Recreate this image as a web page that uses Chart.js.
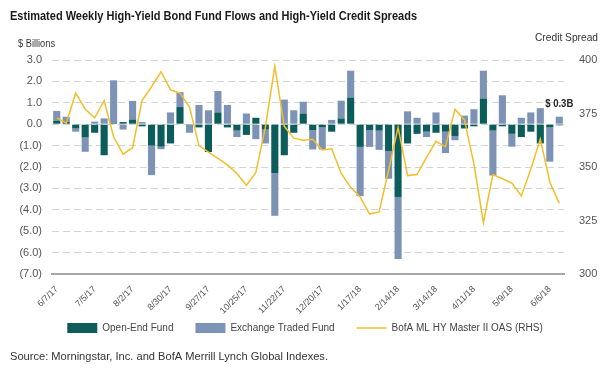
<!DOCTYPE html>
<html>
<head>
<meta charset="utf-8">
<script src="https://cdn.jsdelivr.net/npm/chart.js@4.4.1/dist/chart.umd.min.js"></script>
<style>
  html, body { margin: 0; padding: 0; background: #fff; }
  #wrap { width: 600px; height: 369px; position: relative; }
</style>
</head>
<body>
<div id="wrap"><canvas id="flowChart"></canvas></div>
<script>
// weekly data, 6/7/17 - 6/13/18
const weeks = [
  '6/7/17', '6/14/17', '6/21/17', '6/28/17', '7/5/17', '7/12/17', '7/19/17', '7/26/17',
  '8/2/17', '8/9/17', '8/16/17', '8/23/17', '8/30/17', '9/6/17', '9/13/17', '9/20/17',
  '9/27/17', '10/4/17', '10/11/17', '10/18/17', '10/25/17', '11/1/17', '11/8/17', '11/15/17',
  '11/22/17', '11/29/17', '12/6/17', '12/13/17', '12/20/17', '12/27/17', '1/3/18', '1/10/18',
  '1/17/18', '1/24/18', '1/31/18', '2/7/18', '2/14/18', '2/21/18', '2/28/18', '3/7/18',
  '3/14/18', '3/21/18', '3/28/18', '4/4/18', '4/11/18', '4/18/18', '4/25/18', '5/2/18',
  '5/9/18', '5/16/18', '5/23/18', '5/30/18', '6/6/18', '6/13/18'
];

// $ billions
const openEndFund = [
  0.15, 0.1, -0.2, -0.62, -0.4, -1.45, 0.05, 0.1, 0.22, -0.1, -1.0, -1.05, -0.9, 0.8,
  -0.05, -0.15, -1.3, 0.55, -0.15, -0.3, -0.5, 0.3, -0.25, -2.28, -1.45, -0.4, 0.5,
  -0.28, -0.15, -0.35, 0.27, 1.25, -1.06, -0.28, -0.3, -1.25, -3.4, -0.9, -0.45,
  -0.35, -0.4, -0.35, -0.55, -0.2, -0.1, 1.2, -0.3, -0.1, -0.45, -0.6, -0.35, -0.9,
  -0.15, -0.05
];
const exchangeTradedFund = [
  0.47, 0.25, -0.15, -0.67, 0.12, 0.27, 2.0, -0.25, 0.87, 0.1, -1.38, -0.12, 0.55, 0.7,
  -0.35, 0.9, 0.65, 1.0, 0.9, -0.3, 0.5, -0.7, -0.65, -2.0, 1.15, 0.65, 0.55,
  -0.9, -1.03, 0.2, 0.83, 1.25, -2.3, -0.78, -0.9, -1.3, -2.9, 0.6, 0.3,
  -0.25, 0.55, -1.0, -0.2, 0.4, 0.7, 1.3, -2.1, 1.35, -0.6, 0.3, 0.55, 0.75,
  -1.6, 0.35
];
// BofA ML HY Master II OAS, right axis
const creditSpread = [
  373, 370.5, 384.5, 377, 373, 381, 364, 356, 359, 381, 387.5, 394.5, 386, 384.5,
  378, 360, 357, 354, 351, 347, 341.5, 347.5, 368.5, 397, 369, 363.5, 362.5,
  363, 358, 358.5, 347, 340.5, 336, 328, 329, 348.5, 368.5, 346, 346.5,
  354.5, 362, 359.5, 377, 372, 351.5, 324, 346.5, 344.5, 342.5, 336.5, 349, 363,
  343, 333
];

const leftTicks = [3, 2, 1, 0, -1, -2, -3, -4, -5, -6, -7];
const rightTicks = [400, 375, 350, 325, 300];
const lastLabel = '$ 0.3B';
const titleText = 'Estimated Weekly High-Yield Bond Fund Flows and High-Yield Credit Spreads';

const FONT = "'Liberation Sans Narrow', 'Liberation Sans', Arial, sans-serif";
const TEAL = '#0b5c5a';
const SLATE = '#7d93b6';
const GOLD = '#f2be2a';

function fmtFlow(v) {
  if (v < 0) return '(' + Math.abs(v).toFixed(1) + ')';
  return v.toFixed(1);
}

// draw narrow text: squeeze horizontally to a target width
function narrowText(ctx, text, x, y, width) {
  const w = ctx.measureText(text).width;
  ctx.save();
  ctx.translate(x, y);
  ctx.scale(width / w, 1);
  ctx.fillText(text, 0, 0);
  ctx.restore();
}

const extraText = {
  id: 'extraText',
  afterDraw(chart) {
    const ctx = chart.ctx;
    ctx.save();
    ctx.textBaseline = 'middle';
    ctx.textAlign = 'left';

    ctx.fillStyle = '#1a1a1a';
    ctx.font = 'bold 13.5px ' + FONT;
    narrowText(ctx, titleText, 10, 16, 407);

    ctx.fillStyle = '#333';
    ctx.font = '11px ' + FONT;
    narrowText(ctx, '$ Billions', 18, 44, 37);
    narrowText(ctx, 'Credit Spread', 535, 38, 63);
    ctx.font = '10.5px ' + FONT;
    narrowText(ctx, 'Source: Morningstar, Inc. and BofA Merrill Lynch Global Indexes.', 10, 357, 318);

    // callout above the latest week
    const meta = chart.getDatasetMeta(2);
    const bar = meta.data[meta.data.length - 1];
    ctx.font = 'bold 11px ' + FONT;
    ctx.fillStyle = '#222';
    narrowText(ctx, lastLabel, bar.x - 14, bar.y - 13, 28);
    ctx.restore();
  }
};

const ctx = document.getElementById('flowChart').getContext('2d');
new Chart(ctx, {
  data: {
    labels: weeks,
    datasets: [
      {
        type: 'line',
        label: 'BofA ML HY Master II OAS (RHS)',
        data: creditSpread,
        yAxisID: 'y1',
        borderColor: GOLD,
        backgroundColor: GOLD,
        borderWidth: 1.5,
        pointRadius: 0,
        tension: 0,
        order: 0
      },
      {
        type: 'bar',
        label: 'Open-End Fund',
        data: openEndFund,
        yAxisID: 'y',
        backgroundColor: TEAL,
        barPercentage: 0.75,
        categoryPercentage: 1,
        order: 1
      },
      {
        type: 'bar',
        label: 'Exchange Traded Fund',
        data: exchangeTradedFund,
        yAxisID: 'y',
        backgroundColor: SLATE,
        barPercentage: 0.75,
        categoryPercentage: 1,
        order: 1
      }
    ]
  },
  options: {
    responsive: true,
    maintainAspectRatio: false,
    animation: false,
    layout: { padding: { left: 10, right: 0, top: 60, bottom: 26 } },
    scales: {
      x: {
        stacked: true,
        grid: { display: false },
        border: { display: true, color: '#a8a8a8', width: 2 },
        afterFit: function (scale) {
          scale.height = 27;
          // let the rotated dates run below the axis box
          scale._computeLabelArea = function () { return undefined; };
        },
        ticks: {
          autoSkip: false,
          minRotation: 45,
          maxRotation: 45,
          padding: 2,
          color: '#555',
          font: { family: FONT, size: 9 },
          callback: function (val, i) { return i % 4 === 0 ? weeks[i] : ''; }
        }
      },
      y: {
        stacked: true,
        position: 'left',
        min: -7,
        max: 3,
        afterBuildTicks: function (scale) { scale.ticks = leftTicks.map(v => ({ value: v })); },
        afterFit: function (scale) { scale.width = 42; },
        grid: { color: '#d4d4d4', lineWidth: 1, drawTicks: false },
        border: { display: false, dash: [7, 4] },
        ticks: {
          padding: 10,
          color: '#555',
          font: { family: FONT, size: 11 },
          callback: v => fmtFlow(v)
        }
      },
      y1: {
        position: 'right',
        min: 300,
        max: 400,
        afterBuildTicks: function (scale) { scale.ticks = rightTicks.map(v => ({ value: v })); },
        afterFit: function (scale) { scale.width = 36; },
        grid: { display: false },
        border: { display: false },
        ticks: {
          padding: 7,
          color: '#555',
          font: { family: FONT, size: 11 }
        }
      }
    },
    plugins: {
      legend: {
        position: 'bottom',
        labels: {
          usePointStyle: true,
          pointStyleWidth: 30,
          boxHeight: 10,
          padding: 22,
          color: '#444',
          font: { family: FONT, size: 10 },
          sort: (a, b) => {
            const rank = [2, 0, 1];
            return rank[a.datasetIndex] - rank[b.datasetIndex];
          },
          generateLabels: function (chart) {
            const items = Chart.defaults.plugins.legend.labels.generateLabels(chart);
            items.forEach(it => {
              if (it.datasetIndex === 0) {
                it.pointStyle = 'line';
                it.strokeStyle = GOLD;
                it.lineWidth = 1.5;
              } else {
                it.pointStyle = 'rect';
                it.lineWidth = 0;
              }
            });
            return items;
          }
        }
      },
      tooltip: { enabled: false }
    }
  },
  plugins: [extraText]
});
</script>
</body>
</html>
